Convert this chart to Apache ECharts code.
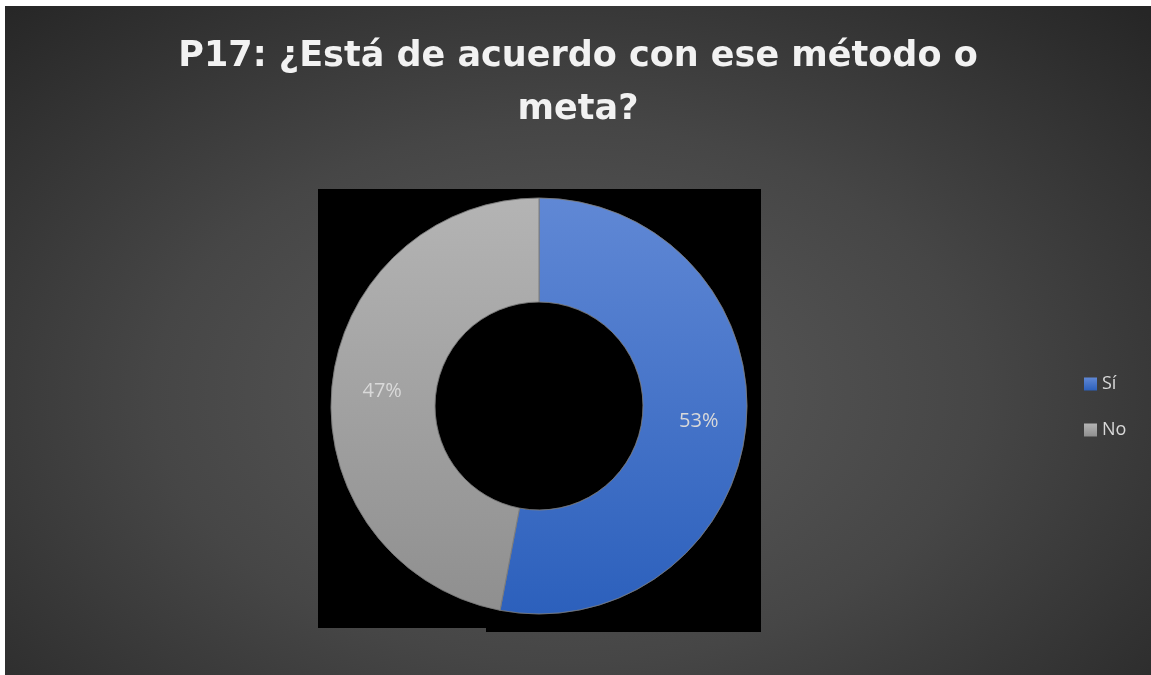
<!DOCTYPE html>
<html>
<head>
<meta charset="utf-8">
<script src="https://cdn.jsdelivr.net/npm/echarts@6/dist/echarts.min.js"></script>
<style>
  html, body { margin: 0; padding: 0; background: #ffffff; }
  #chart {
    position: absolute; left: 5px; top: 6px; width: 1146px; height: 669px;
    background: radial-gradient(ellipse 72% 80% at 49% 58%, #5c5c5c 0%, #464646 50%, #262626 100%);
  }
</style>
</head>
<body>
<div id="chart"></div>
<script>
const titleText = 'P17: ¿Está de acuerdo con ese método o\nmeta?';
const categories = ['Sí', 'No'];
const values = [53, 47];
const colorsTop = ['#6088d5', '#b4b4b4'];
const colorsBottom = ['#2c60bc', '#8f8f8f'];

const chart = echarts.init(document.getElementById('chart'));
const fontFamily = '"Open Sans", "Noto Sans", sans-serif';

chart.setOption({
  backgroundColor: 'transparent',
  title: {
    text: titleText,
    left: 'center',
    top: 19,
    padding: [5, 0, 5, 6],
    textStyle: {
      color: '#f2f2f2',
      fontFamily: '"DejaVu Sans", sans-serif',
      fontWeight: 'bold',
      fontSize: 35,
      lineHeight: 53
    }
  },
  graphic: [
    { type: 'rect', z: 0, silent: true, shape: { x: 313, y: 183, width: 443, height: 439 }, style: { fill: '#000000' } },
    { type: 'rect', z: 0, silent: true, shape: { x: 481, y: 620, width: 275, height: 6 }, style: { fill: '#000000' } }
  ],
  legend: {
    orient: 'vertical',
    left: 1079,
    top: 369,
    padding: 0,
    icon: 'rect',
    itemWidth: 13,
    itemHeight: 13,
    itemGap: 28,
    data: categories,
    itemStyle: { borderWidth: 0 },
    textStyle: { color: '#d9d9d9', fontFamily: fontFamily, fontSize: 18, lineHeight: 18 }
  },
  series: [{
    type: 'pie',
    z: 5,
    center: [534, 400],
    radius: [104, 208],
    startAngle: 90,
    clockwise: true,
    avoidLabelOverlap: false,
    label: {
      show: true,
      position: 'inside',
      formatter: '{d}%',
      color: '#d9d9d9',
      fontFamily: fontFamily,
      fontSize: 20,
      padding: [6, 0, 0, 3]
    },
    labelLine: { show: false },
    emphasis: { disabled: true },
    itemStyle: { borderColor: 'rgba(125,125,125,0.55)', borderWidth: 1 },
    data: categories.map((c, i) => ({
      name: c,
      value: values[i],
      itemStyle: {
        color: new echarts.graphic.LinearGradient(0, 0, 0, 1, [
          { offset: 0, color: colorsTop[i] },
          { offset: 1, color: colorsBottom[i] }
        ])
      }
    }))
  }]
});
</script>
</body>
</html>
